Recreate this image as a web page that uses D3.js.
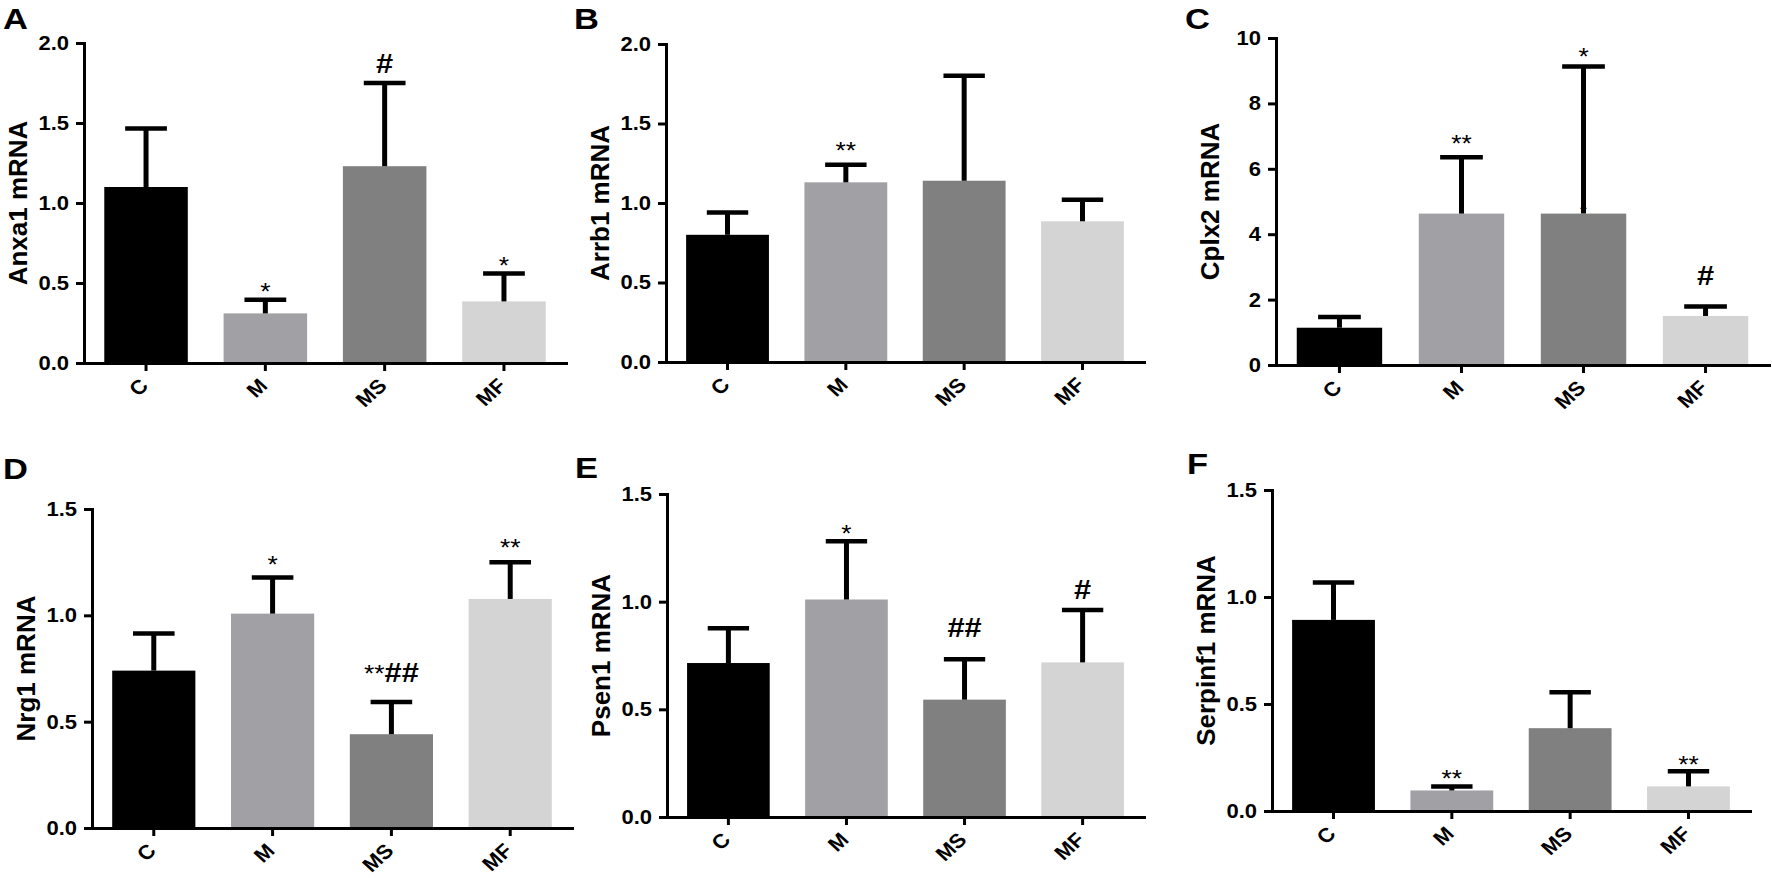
<!DOCTYPE html>
<html>
<head>
<meta charset="utf-8">
<script src="https://cdn.jsdelivr.net/npm/d3@7"></script>
<style>
  html, body { margin: 0; padding: 0; background: #ffffff; }
  svg { display: block; }
  text { font-family: "Liberation Sans", Arial, sans-serif; }
</style>
</head>
<body>
<script>
// ---------- DATA ----------
const categories = ["C", "M", "MS", "MF"];
const barColors = ["#000000", "#a1a1a5", "#808080", "#d4d4d4"];

const anxa1Mean = [1.10, 0.31, 1.23, 0.385];
const anxa1Err  = [1.465, 0.395, 1.75, 0.56];
const anxa1Sig  = ["", "*", "#", "*"];

const arrb1Mean = [0.80, 1.13, 1.14, 0.885];
const arrb1Err  = [0.94, 1.24, 1.80, 1.02];
const arrb1Sig  = ["", "**", "", ""];

const cplx2Mean = [1.14, 4.63, 4.63, 1.50];
const cplx2Err  = [1.47, 6.35, 9.13, 1.79];
const cplx2Sig  = ["", "**", "*", "#"];
const cplx2Inner = ["", "", "*", ""];

const nrg1Mean = [0.74, 1.008, 0.441, 1.077];
const nrg1Err  = [0.915, 1.178, 0.592, 1.25];
const nrg1Sig  = ["", "*", "**##", "**"];

const psen1Mean = [0.715, 1.01, 0.545, 0.718];
const psen1Err  = [0.876, 1.28, 0.733, 0.961];
const psen1Sig  = ["", "*", "##", "#"];

const serpinf1Mean = [0.893, 0.096, 0.387, 0.115];
const serpinf1Err  = [1.068, 0.115, 0.555, 0.186];
const serpinf1Sig  = ["", "**", "", "**"];

const ticks2  = [0, 0.5, 1.0, 1.5, 2.0];
const ticks10 = [0, 2, 4, 6, 8, 10];
const ticks15 = [0, 0.5, 1.0, 1.5];

// ---------- LAYOUT (positions / styles only) ----------
const STRETCH = 1.1;    // the original figure text is slightly widened horizontally
const panels = [
  { letter: "A", title: "Anxa1 mRNA", mean: anxa1Mean, err: anxa1Err, sig: anxa1Sig, ticks: ticks2, max: 2, fmt: ".1f",
    x0: 84, x1: 566, yTop: 43, yBot: 363, lx: 3, ly: 29, lift: [0, 0, 10, -1] },
  { letter: "B", title: "Arrb1 mRNA", mean: arrb1Mean, err: arrb1Err, sig: arrb1Sig, ticks: ticks2, max: 2, fmt: ".1f",
    x0: 666, x1: 1144, yTop: 44, yBot: 362, lx: 574, ly: 29, lift: [0, 6, 0, 0] },
  { letter: "C", title: "Cplx2 mRNA", mean: cplx2Mean, err: cplx2Err, sig: cplx2Sig, inner: cplx2Inner, ticks: ticks10, max: 10, fmt: "d",
    x0: 1276, x1: 1769, yTop: 38, yBot: 365, lx: 1185, ly: 29, lift: [0, 5, 1, 21] },
  { letter: "D", title: "Nrg1 mRNA", mean: nrg1Mean, err: nrg1Err, sig: nrg1Sig, ticks: ticks15, max: 1.5, fmt: ".1f",
    x0: 92, x1: 572, yTop: 509, yBot: 828, lx: 3, ly: 479, lift: [0, 4, 20, 6] },
  { letter: "E", title: "Psen1 mRNA", mean: psen1Mean, err: psen1Err, sig: psen1Sig, ticks: ticks15, max: 1.5, fmt: ".1f",
    x0: 667, x1: 1144, yTop: 494, yBot: 817, lx: 575, ly: 478, lift: [0, -1, 22, 11] },
  { letter: "F", title: "Serpinf1 mRNA", mean: serpinf1Mean, err: serpinf1Err, sig: serpinf1Sig, ticks: ticks15, max: 1.5, fmt: ".1f",
    x0: 1272, x1: 1750, yTop: 490, yBot: 811, lx: 1187, ly: 474, lift: [0, -1, 0, -2] }
];

const FONT = '"Liberation Sans", Arial, sans-serif';

const svg = d3.select("body").append("svg")
  .attr("width", 1772).attr("height", 878)
  .style("background", "#ffffff");

panels.forEach(p => {
  const x = d3.scaleBand().domain(categories).range([p.x0, p.x1])
    .paddingInner(0.3).paddingOuter(0.17);
  const y = d3.scaleLinear().domain([0, p.max]).range([p.yBot, p.yTop]);
  const g = svg.append("g");
  const bw = x.bandwidth();
  const cx = i => x(categories[i]) + bw / 2;
  const capW = bw * 0.5;

  // bars
  g.selectAll("rect.bar").data(p.mean).join("rect")
    .attr("class", "bar")
    .attr("x", (d, i) => x(categories[i]))
    .attr("y", d => y(d))
    .attr("width", bw)
    .attr("height", d => y(0) - y(d))
    .attr("fill", (d, i) => barColors[i]);

  // error stems
  g.selectAll("line.stem").data(p.err).join("line")
    .attr("class", "stem")
    .attr("x1", (d, i) => cx(i)).attr("x2", (d, i) => cx(i))
    .attr("y1", (d, i) => y(p.mean[i])).attr("y2", d => y(d))
    .attr("stroke", "#000").attr("stroke-width", 5);

  // error caps
  g.selectAll("line.cap").data(p.err).join("line")
    .attr("class", "cap")
    .attr("x1", (d, i) => cx(i) - capW / 2).attr("x2", (d, i) => cx(i) + capW / 2)
    .attr("y1", d => y(d)).attr("y2", d => y(d))
    .attr("stroke", "#000").attr("stroke-width", 4.5);

  // significance marks
  const sig = g.selectAll("text.sig").data(p.sig).join("text")
    .attr("class", "sig")
    .attr("transform", (d, i) => `translate(${cx(i)},${y(p.err[i]) - p.lift[i]}) scale(${STRETCH},1)`)
    .attr("text-anchor", "middle")
    .attr("font-family", FONT)
    .attr("fill", "#000");
  sig.each(function(d) {
    const t = d3.select(this);
    const stars = (d.match(/\*/g) || []).join("");
    const hashes = (d.match(/#/g) || []).join("");
    if (stars) t.append("tspan").attr("font-size", 24).attr("font-weight", "normal").text(stars);
    if (hashes) t.append("tspan").attr("font-size", 28).attr("font-weight", "bold").text(hashes);
  });

  // small mark at bar top (panel C)
  if (p.inner) {
    g.selectAll("text.inner").data(p.inner).join("text")
      .attr("class", "inner")
      .attr("transform", (d, i) => `translate(${cx(i)},${y(p.mean[i]) + 4}) scale(${STRETCH},1)`)
      .attr("text-anchor", "middle")
      .attr("font-size", 16).attr("font-family", FONT).attr("fill", "#000")
      .text(d => d);
  }

  // y axis
  const yAxis = d3.axisLeft(y).tickValues(p.ticks).tickFormat(d3.format(p.fmt))
    .tickSizeInner(8).tickSizeOuter(0).tickPadding(4);
  const ya = g.append("g").attr("transform", `translate(${p.x0},0)`).call(yAxis);
  ya.select(".domain").attr("stroke", "#000").attr("stroke-width", 3).attr("stroke-linecap", "square");
  ya.selectAll(".tick line").attr("stroke", "#000").attr("stroke-width", 3);
  ya.selectAll(".tick text")
    .attr("font-size", 20).attr("font-weight", "bold").attr("fill", "#000")
    .attr("font-family", FONT)
    .attr("x", 0)
    .attr("transform", `translate(-15,0) scale(${STRETCH},1)`);

  // x axis
  const xAxis = d3.axisBottom(x).tickSizeInner(8).tickSizeOuter(0).tickPadding(6);
  const xa = g.append("g").attr("transform", `translate(0,${y(0)})`).call(xAxis);
  xa.select(".domain").attr("stroke", "#000").attr("stroke-width", 3).attr("stroke-linecap", "square");
  xa.selectAll(".tick line").attr("stroke", "#000").attr("stroke-width", 3);
  xa.selectAll(".tick text")
    .attr("font-size", 20).attr("font-weight", "bold").attr("fill", "#000")
    .attr("font-family", FONT)
    .attr("text-anchor", "end")
    .attr("dy", "0.35em")
    .attr("y", 0).attr("x", 0)
    .attr("transform", `translate(-2,19) scale(${STRETCH},1) rotate(-45)`);

  // y title
  g.append("text")
    .attr("transform", `translate(${p.x0 - 57},${(p.yTop + p.yBot) / 2}) rotate(-90)`)
    .attr("text-anchor", "middle")
    .attr("font-size", 26)
    .attr("font-weight", "bold")
    .attr("font-family", FONT)
    .attr("fill", "#000")
    .text(p.title);

  // panel letter
  g.append("text")
    .attr("transform", `translate(${p.lx},${p.ly}) scale(1.15,1)`)
    .attr("font-size", 30).attr("font-weight", "bold").attr("font-family", FONT).attr("fill", "#000")
    .text(p.letter);
});
</script>
</body>
</html>
